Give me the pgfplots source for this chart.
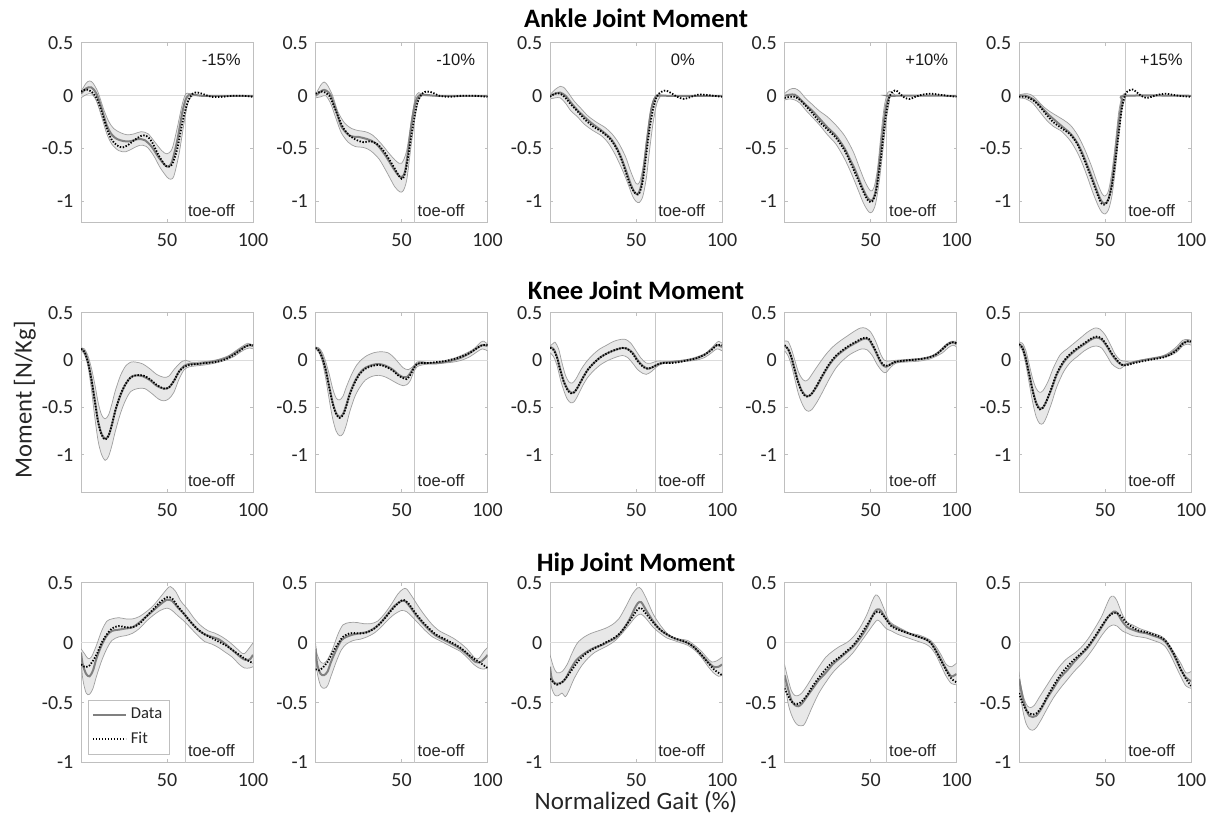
\documentclass[border=0pt]{standalone}
\usepackage{pgfplots}
\pgfplotsset{compat=1.18}
\usepgfplotslibrary{fillbetween}
\usepackage{fontspec}
\setmainfont{Carlito}
\newfontfamily\arialfont{Liberation Sans}

\definecolor{cBand}{gray}{0.91}
\definecolor{cBandEdge}{gray}{0.62}
\definecolor{cMean}{gray}{0.5}
\definecolor{cBox}{gray}{0.75}
\definecolor{cZero}{gray}{0.86}
\definecolor{cToe}{gray}{0.78}
\definecolor{cTick}{gray}{0.15}

\pgfplotsset{
  panel/.style={
    set layers,
    scale only axis, width=86pt, height=89.75pt,
    anchor=north west,
    xmin=0, xmax=100, ymax=0.5,
    xtick={50,100}, xticklabels={50,100},
    ytick={-1,-0.5,0,0.5}, yticklabels={-1,-0.5,0,0.5},
    axis line style={cBox, line width=0.5pt},
    tick style={cBox, line width=0.5pt},
    major tick length=1.5pt,
    tick align=inside,
    /pgf/number format/assume math mode=true,
    ticklabel style={font=\fontsize{10}{11}\selectfont, text=cTick},
    xticklabel style={yshift=-2pt},
    yticklabel style={xshift=-0.3pt},
    legend image code/.code={\draw[##1] (0pt,0pt) -- (16.5pt,0pt);},
  },
  bandedge/.style={cBandEdge, line width=0.35pt, smooth, forget plot},
  dataline/.style={cMean, line width=1pt, smooth},
  fitline/.style={black, line width=0.9pt, dash pattern=on 0.7pt off 0.8pt, smooth},
}

% #1 position, #2 ymin, #3 toe-off, #4 upper band, #5 lower band,
% #6 mean data, #7 fit, #8 extra axis options, #9 extra content
\newcommand{\panel}[9]{%
\begin{axis}[panel, at={(#1)}, ymin=#2, #8]
  \addplot[cZero, line width=0.5pt, forget plot] coordinates {(0,0) (100,0)};
  \addplot[cToe, line width=0.45pt, forget plot] coordinates {(#3,-2) (#3,1)};
  \addplot[bandedge, name path=hi] coordinates {#4};
  \addplot[bandedge, name path=lo] coordinates {#5};
  \addplot[fill=cBand, draw=none, forget plot] fill between[of=hi and lo];
  \addplot[dataline] coordinates {#6};
  \addplot[fitline] coordinates {#7};
  \node[anchor=south west, inner sep=0pt, xshift=1.3pt, yshift=2.6pt,
        font=\arialfont\fontsize{8.3}{9}\selectfont, text=cTick]
        at (axis cs:#3,#2) {toe-off};
  #9
\end{axis}}

\newcommand{\pct}[1]{\node[anchor=west, inner sep=0pt,
   font=\arialfont\fontsize{8.3}{9}\selectfont, text=black!90]
   at (axis cs:70,0.34) {#1};}

\begin{document}
\begin{tikzpicture}
\path (0,0) rectangle (610pt,411pt);

% ---------------- Ankle ----------------
\panel{40.5pt,389.5pt}{-1.2}{60.5}
{(0,0.04)(3,0.12)(5,0.14)(7,0.12)(10,0.03)(13,-0.12)(16,-0.24)(19,-0.31)(23,-0.35)(27,-0.37)(31,-0.36)(35,-0.34)(39,-0.36)(43,-0.44)(47,-0.52)(50,-0.55)(53,-0.5)(56,-0.3)(59,-0.07)(61,0.02)(63,0.02)(66,0.01)(70,0)(80,0)(90,0)(100,0)}
{(0,-0.02)(3,0.01)(6,0.02)(9,-0.05)(12,-0.2)(15,-0.36)(18,-0.46)(22,-0.52)(26,-0.53)(30,-0.5)(34,-0.47)(38,-0.48)(42,-0.56)(46,-0.68)(50,-0.77)(52,-0.79)(54,-0.76)(57,-0.55)(60,-0.25)(62,-0.08)(64,-0.01)(67,0)(80,0)(90,0)(100,0)}
{(0,0.02)(3,0.07)(6,0.08)(9,0.02)(12,-0.12)(15,-0.28)(18,-0.37)(21,-0.41)(25,-0.43)(29,-0.43)(33,-0.41)(37,-0.42)(41,-0.48)(45,-0.58)(49,-0.66)(51,-0.67)(53,-0.62)(56,-0.42)(59,-0.15)(61,-0.03)(63,0.01)(66,0.01)(70,0)(80,0)(90,0)(100,0)}
{(0,0.04)(3,0.06)(6,0.04)(9,-0.02)(12,-0.15)(15,-0.31)(18,-0.42)(21,-0.47)(24,-0.49)(27,-0.47)(31,-0.42)(35,-0.38)(38,-0.38)(41,-0.43)(45,-0.56)(49,-0.66)(51,-0.67)(53,-0.65)(56,-0.5)(59,-0.25)(62,-0.06)(65,0.02)(68,0.03)(72,0.01)(76,-0.01)(82,-0.01)(88,0)(94,0)(100,-0.01)}
{}{\pct{-15\%}}

\panel{157.75pt,389.5pt}{-1.2}{57.7}
{(0,0.01)(3,0.1)(5,0.13)(7,0.1)(10,0)(13,-0.15)(17,-0.26)(21,-0.31)(25,-0.33)(29,-0.34)(33,-0.37)(38,-0.45)(43,-0.55)(47,-0.62)(50,-0.64)(53,-0.52)(56,-0.2)(58,-0.02)(60,0.03)(62,0.01)(65,0)(80,0)(100,0)}
{(0,-0.02)(3,-0.01)(6,0)(9,-0.08)(12,-0.22)(15,-0.35)(19,-0.44)(23,-0.48)(28,-0.49)(32,-0.52)(37,-0.6)(42,-0.74)(46,-0.86)(49,-0.91)(51,-0.9)(53,-0.8)(55,-0.55)(57,-0.3)(59,-0.1)(61,-0.01)(64,0)(80,0)(100,0)}
{(0,0)(3,0.04)(5,0.056)(7,0.04)(9,0)(12,-0.14)(15,-0.29)(20,-0.38)(25,-0.39)(30,-0.41)(35,-0.45)(40,-0.55)(45,-0.68)(48,-0.75)(50,-0.77)(52,-0.72)(54,-0.5)(56,-0.25)(58,-0.07)(60,0)(63,0.01)(70,0)(80,0)(100,0)}
{(0,0.02)(4,0.04)(8,0)(12,-0.15)(16,-0.3)(20,-0.38)(24,-0.42)(28,-0.44)(32,-0.43)(36,-0.46)(40,-0.53)(45,-0.66)(49,-0.77)(51,-0.78)(53,-0.66)(56,-0.35)(59,-0.08)(62,0.02)(65,0.04)(68,0.03)(72,0)(78,-0.01)(85,0)(92,0)(100,-0.01)}
{}{\pct{-10\%}}

\panel{275pt,389.5pt}{-1.2}{61.2}
{(0,0.01)(3,0.06)(6,0.09)(8,0.08)(11,0.02)(14,-0.05)(18,-0.12)(22,-0.19)(27,-0.25)(32,-0.3)(36,-0.36)(40,-0.45)(44,-0.58)(47,-0.72)(50,-0.83)(52,-0.82)(54,-0.68)(56,-0.42)(58,-0.18)(60,-0.04)(62,0.01)(64,0.01)(70,0)(100,0)}
{(0,-0.03)(3,-0.02)(6,-0.02)(9,-0.07)(12,-0.14)(16,-0.2)(20,-0.27)(25,-0.33)(30,-0.38)(34,-0.45)(38,-0.56)(42,-0.7)(45,-0.82)(48,-0.95)(50,-1)(52,-1.01)(54,-0.95)(56,-0.78)(58,-0.5)(60,-0.25)(62,-0.08)(64,-0.01)(67,0)(100,0)}
{(0,0)(3,0.02)(6,0.03)(9,0)(12,-0.06)(15,-0.12)(20,-0.2)(25,-0.27)(30,-0.33)(35,-0.4)(38,-0.47)(41,-0.57)(44,-0.7)(47,-0.84)(49,-0.91)(51,-0.93)(53,-0.85)(55,-0.62)(57,-0.35)(59,-0.12)(61,-0.02)(63,0)(70,0)(100,0)}
{(0,-0.01)(3,0.02)(6,0.02)(9,-0.02)(12,-0.08)(15,-0.13)(20,-0.22)(25,-0.29)(30,-0.34)(35,-0.41)(38,-0.48)(41,-0.58)(44,-0.72)(47,-0.86)(50,-0.93)(52,-0.92)(54,-0.8)(56,-0.55)(58,-0.3)(60,-0.12)(62,-0.01)(64,0.03)(67,0.05)(70,0.03)(74,-0.01)(78,-0.03)(82,-0.01)(86,0.01)(90,0.01)(95,0)(100,-0.01)}
{}{\pct{0\%}}

\panel{392.25pt,389.5pt}{-1.2}{59.1}
{(0,0.02)(3,0.06)(6,0.07)(9,0.04)(12,-0.02)(16,-0.08)(20,-0.14)(25,-0.2)(30,-0.28)(35,-0.38)(40,-0.53)(44,-0.7)(47,-0.82)(50,-0.9)(52,-0.87)(54,-0.7)(56,-0.38)(58,-0.1)(60,0.03)(62,0.04)(64,0.01)(66,0)(100,0)}
{(0,-0.04)(3,-0.03)(6,-0.04)(9,-0.07)(12,-0.13)(16,-0.2)(20,-0.27)(25,-0.37)(30,-0.46)(35,-0.6)(39,-0.74)(43,-0.9)(46,-1.02)(49,-1.1)(51,-1.1)(53,-1.02)(55,-0.82)(57,-0.55)(59,-0.25)(61,-0.06)(63,0)(100,0)}
{(0,0)(3,0.01)(6,0.01)(9,-0.03)(12,-0.08)(16,-0.14)(20,-0.21)(25,-0.3)(30,-0.38)(35,-0.5)(38,-0.6)(41,-0.7)(44,-0.82)(47,-0.93)(49,-0.98)(51,-0.99)(53,-0.9)(55,-0.65)(57,-0.35)(59,-0.1)(61,-0.01)(63,0)(100,0)}
{(0,-0.02)(3,-0.01)(6,-0.01)(9,-0.04)(12,-0.09)(16,-0.16)(20,-0.24)(25,-0.32)(30,-0.4)(35,-0.52)(38,-0.62)(41,-0.73)(44,-0.84)(47,-0.95)(49,-1)(51,-1)(53,-0.92)(55,-0.72)(57,-0.45)(59,-0.18)(61,-0.01)(63,0.04)(65,0.05)(67,0.02)(70,-0.02)(73,-0.03)(76,-0.01)(80,0.01)(85,0.02)(90,0.01)(95,0)(100,-0.01)}
{}{\pct{+10\%}}

\panel{509.5pt,389.5pt}{-1.2}{61.8}
{(0,0.01)(4,0.02)(7,0.01)(10,-0.03)(14,-0.1)(18,-0.15)(22,-0.19)(26,-0.23)(30,-0.28)(34,-0.37)(38,-0.5)(42,-0.66)(45,-0.8)(48,-0.92)(50,-0.95)(52,-0.9)(54,-0.72)(56,-0.45)(58,-0.15)(60,0)(62,0.02)(64,0)(100,0)}
{(0,-0.02)(4,-0.03)(8,-0.07)(12,-0.15)(16,-0.23)(20,-0.29)(25,-0.34)(30,-0.43)(34,-0.54)(37,-0.65)(40,-0.78)(43,-0.92)(46,-1.04)(48,-1.1)(50,-1.12)(52,-1.08)(54,-0.95)(56,-0.7)(58,-0.38)(60,-0.12)(62,-0.02)(64,0)(100,0)}
{(0,0)(4,0)(8,-0.03)(12,-0.09)(16,-0.16)(20,-0.22)(25,-0.29)(30,-0.36)(34,-0.45)(37,-0.55)(40,-0.67)(43,-0.8)(46,-0.93)(48,-1)(50,-1.02)(52,-0.98)(54,-0.82)(56,-0.55)(58,-0.25)(60,-0.05)(62,0)(100,0)}
{(0,-0.01)(4,-0.01)(8,-0.04)(12,-0.1)(16,-0.18)(20,-0.25)(25,-0.31)(30,-0.37)(34,-0.46)(37,-0.57)(40,-0.69)(43,-0.82)(46,-0.95)(48,-1.02)(50,-1.03)(52,-0.98)(54,-0.85)(56,-0.62)(58,-0.35)(60,-0.1)(62,0.02)(64,0.05)(66,0.06)(68,0.04)(71,0)(74,-0.02)(77,-0.01)(81,0.01)(85,0.02)(89,0.01)(93,0)(100,-0.01)}
{}{\pct{+15\%}}

% ---------------- Knee ----------------
\panel{40.5pt,254.5pt}{-1.4}{60.5}
{(0,0.13)(2,0.12)(4,0.05)(6,-0.08)(8,-0.25)(10,-0.45)(12,-0.58)(14,-0.62)(16,-0.58)(18,-0.46)(20,-0.32)(23,-0.16)(26,-0.06)(29,-0.02)(32,-0.02)(36,-0.04)(40,-0.09)(44,-0.15)(48,-0.18)(51,-0.17)(54,-0.1)(57,-0.04)(59,-0.01)(61,0)(64,-0.02)(68,-0.02)(74,-0.01)(80,0.01)(86,0.05)(90,0.1)(94,0.15)(97,0.18)(100,0.16)}
{(0,0.11)(2,0.06)(4,-0.06)(6,-0.3)(8,-0.6)(10,-0.86)(12,-1)(14,-1.06)(16,-1.02)(18,-0.9)(20,-0.75)(23,-0.56)(26,-0.42)(29,-0.33)(33,-0.3)(37,-0.3)(41,-0.35)(45,-0.41)(48,-0.43)(51,-0.41)(54,-0.34)(57,-0.2)(60,-0.1)(63,-0.07)(67,-0.06)(72,-0.05)(78,-0.03)(84,0)(89,0.04)(93,0.09)(96,0.12)(98,0.13)(100,0.12)}
{(0,0.12)(2,0.09)(4,-0.01)(6,-0.19)(8,-0.42)(10,-0.65)(12,-0.78)(14,-0.83)(16,-0.8)(18,-0.68)(20,-0.53)(23,-0.37)(26,-0.25)(29,-0.18)(32,-0.16)(36,-0.17)(40,-0.21)(44,-0.27)(48,-0.3)(51,-0.29)(54,-0.22)(57,-0.12)(60,-0.06)(63,-0.04)(67,-0.04)(72,-0.03)(78,-0.01)(84,0.02)(89,0.07)(93,0.12)(96,0.15)(98,0.16)(100,0.15)}
{(0,0.12)(2,0.09)(4,-0.02)(6,-0.2)(8,-0.43)(10,-0.66)(12,-0.79)(14,-0.84)(16,-0.8)(18,-0.68)(20,-0.53)(23,-0.36)(26,-0.25)(29,-0.18)(32,-0.16)(36,-0.16)(40,-0.2)(44,-0.26)(48,-0.3)(51,-0.29)(54,-0.22)(57,-0.12)(60,-0.07)(63,-0.05)(67,-0.04)(72,-0.03)(78,-0.02)(84,0.01)(89,0.06)(93,0.11)(96,0.15)(98,0.16)(100,0.16)}
{}{}

\panel{157.75pt,254.5pt}{-1.4}{57.7}
{(0,0.14)(2,0.13)(4,0.08)(6,-0.02)(8,-0.15)(10,-0.3)(12,-0.4)(14,-0.42)(16,-0.38)(18,-0.28)(21,-0.15)(24,-0.05)(27,0.01)(30,0.05)(34,0.08)(38,0.09)(42,0.08)(45,0.04)(48,-0.02)(51,-0.08)(54,-0.1)(57,-0.06)(59,-0.02)(61,-0.01)(64,-0.02)(70,-0.02)(76,0)(82,0.03)(87,0.07)(92,0.12)(96,0.19)(98,0.2)(100,0.17)}
{(0,0.12)(2,0.08)(4,-0.02)(6,-0.2)(8,-0.42)(10,-0.62)(12,-0.75)(14,-0.8)(16,-0.78)(18,-0.68)(20,-0.54)(23,-0.38)(26,-0.28)(29,-0.21)(33,-0.17)(37,-0.16)(41,-0.18)(45,-0.22)(48,-0.25)(51,-0.27)(53,-0.26)(55,-0.22)(57,-0.13)(59,-0.07)(62,-0.05)(66,-0.04)(70,-0.04)(75,-0.03)(80,-0.02)(85,0)(90,0.04)(94,0.09)(97,0.12)(100,0.1)}
{(0,0.13)(2,0.11)(4,0.03)(6,-0.1)(8,-0.28)(10,-0.45)(12,-0.56)(14,-0.6)(16,-0.57)(18,-0.47)(20,-0.35)(23,-0.22)(26,-0.13)(29,-0.08)(33,-0.05)(37,-0.04)(41,-0.06)(45,-0.1)(48,-0.15)(51,-0.18)(53,-0.18)(55,-0.14)(57,-0.08)(59,-0.04)(62,-0.03)(66,-0.03)(70,-0.03)(75,-0.02)(80,0)(85,0.03)(90,0.08)(94,0.13)(97,0.16)(100,0.15)}
{(0,0.13)(2,0.1)(4,0.02)(6,-0.11)(8,-0.29)(10,-0.46)(12,-0.57)(14,-0.61)(16,-0.58)(18,-0.48)(20,-0.36)(23,-0.23)(26,-0.14)(29,-0.09)(33,-0.06)(37,-0.05)(41,-0.07)(45,-0.11)(48,-0.16)(51,-0.19)(53,-0.2)(55,-0.16)(57,-0.09)(59,-0.04)(62,-0.03)(66,-0.03)(70,-0.02)(75,-0.01)(80,0.01)(85,0.04)(90,0.08)(94,0.13)(97,0.16)(100,0.16)}
{}{}

\panel{275pt,254.5pt}{-1.4}{61.2}
{(0,0.15)(2,0.18)(3,0.19)(5,0.12)(7,-0.03)(9,-0.16)(11,-0.23)(13,-0.24)(15,-0.2)(18,-0.1)(21,-0.02)(25,0.06)(29,0.12)(33,0.16)(37,0.2)(41,0.22)(44,0.22)(47,0.18)(50,0.1)(53,0.02)(56,-0.03)(59,-0.03)(62,-0.01)(66,-0.01)(72,-0.01)(80,0.01)(86,0.04)(92,0.09)(96,0.17)(98,0.2)(100,0.18)}
{(0,0.08)(2,0.04)(4,-0.05)(6,-0.2)(8,-0.32)(10,-0.41)(12,-0.45)(14,-0.44)(16,-0.38)(19,-0.27)(22,-0.18)(26,-0.1)(30,-0.04)(34,0)(38,0.03)(42,0.05)(45,0.03)(48,-0.03)(51,-0.1)(54,-0.14)(56,-0.15)(59,-0.12)(62,-0.07)(65,-0.04)(70,-0.03)(75,-0.02)(80,-0.01)(85,0)(90,0.03)(94,0.08)(97,0.12)(100,0.1)}
{(0,0.14)(2,0.12)(4,0.04)(6,-0.1)(8,-0.22)(10,-0.3)(12,-0.34)(14,-0.34)(16,-0.29)(19,-0.19)(22,-0.1)(26,-0.02)(30,0.04)(34,0.08)(38,0.11)(42,0.13)(45,0.12)(48,0.08)(51,0)(54,-0.06)(57,-0.09)(60,-0.07)(62,-0.05)(65,-0.03)(70,-0.02)(75,-0.01)(80,0)(85,0.02)(90,0.06)(94,0.12)(97,0.16)(100,0.14)}
{(0,0.13)(2,0.11)(4,0.03)(6,-0.11)(8,-0.23)(10,-0.31)(12,-0.35)(14,-0.34)(16,-0.29)(19,-0.19)(22,-0.1)(26,-0.02)(30,0.04)(34,0.08)(38,0.11)(42,0.13)(45,0.12)(48,0.07)(51,-0.01)(54,-0.07)(57,-0.09)(60,-0.07)(62,-0.05)(65,-0.03)(70,-0.03)(75,-0.02)(80,0)(85,0.02)(90,0.06)(94,0.11)(97,0.16)(100,0.16)}
{}{}

\panel{392.25pt,254.5pt}{-1.4}{59.1}
{(0,0.2)(2,0.2)(4,0.12)(6,0)(8,-0.12)(10,-0.19)(12,-0.22)(14,-0.2)(17,-0.12)(20,-0.04)(24,0.06)(28,0.14)(32,0.2)(36,0.25)(40,0.3)(44,0.34)(47,0.34)(50,0.3)(53,0.2)(56,0.06)(58,0)(60,-0.01)(65,0)(72,0.01)(80,0.02)(86,0.05)(90,0.1)(94,0.17)(97,0.2)(100,0.2)}
{(0,0.1)(2,0.05)(4,-0.05)(6,-0.2)(8,-0.35)(10,-0.45)(12,-0.52)(14,-0.54)(16,-0.52)(19,-0.44)(22,-0.34)(26,-0.2)(30,-0.08)(34,0)(38,0.06)(42,0.1)(45,0.12)(48,0.11)(51,0.05)(54,-0.05)(57,-0.12)(59,-0.13)(62,-0.07)(65,-0.03)(70,-0.02)(78,-0.01)(84,0.01)(88,0.04)(92,0.08)(95,0.13)(98,0.16)(100,0.14)}
{(0,0.15)(2,0.12)(4,0.03)(6,-0.1)(8,-0.23)(10,-0.32)(12,-0.37)(14,-0.38)(16,-0.35)(19,-0.27)(22,-0.17)(26,-0.05)(30,0.04)(34,0.1)(38,0.15)(42,0.19)(45,0.22)(47,0.23)(49,0.22)(51,0.16)(53,0.09)(55,0.01)(57,-0.05)(59,-0.07)(61,-0.05)(64,-0.02)(67,-0.01)(72,0)(78,0.01)(84,0.03)(88,0.06)(92,0.12)(95,0.17)(98,0.19)(100,0.17)}
{(0,0.16)(2,0.12)(4,0.03)(6,-0.11)(8,-0.24)(10,-0.33)(12,-0.38)(14,-0.38)(16,-0.35)(19,-0.26)(22,-0.16)(26,-0.04)(30,0.05)(34,0.11)(38,0.16)(42,0.2)(45,0.23)(47,0.24)(49,0.23)(51,0.17)(53,0.1)(55,0.02)(57,-0.04)(59,-0.06)(61,-0.05)(64,-0.02)(67,-0.01)(72,0)(78,0.01)(84,0.03)(88,0.06)(92,0.12)(95,0.17)(98,0.19)(100,0.18)}
{}{}

\panel{509.5pt,254.5pt}{-1.4}{61.8}
{(0,0.19)(2,0.18)(4,0.1)(6,-0.05)(8,-0.2)(10,-0.3)(12,-0.34)(14,-0.32)(17,-0.22)(20,-0.08)(24,0.06)(28,0.12)(32,0.18)(36,0.24)(40,0.3)(44,0.34)(47,0.33)(50,0.27)(53,0.17)(56,0.06)(59,0)(62,-0.01)(65,-0.02)(70,0)(78,0.02)(84,0.05)(88,0.09)(92,0.15)(95,0.21)(98,0.22)(100,0.21)}
{(0,0.15)(2,0.1)(4,-0.05)(6,-0.25)(8,-0.45)(10,-0.6)(12,-0.67)(14,-0.67)(16,-0.6)(19,-0.45)(22,-0.28)(26,-0.12)(30,-0.02)(34,0.04)(38,0.1)(42,0.14)(45,0.15)(48,0.13)(51,0.05)(54,-0.04)(57,-0.08)(59,-0.09)(62,-0.05)(66,-0.03)(72,-0.01)(78,0.01)(84,0.03)(88,0.05)(92,0.09)(95,0.15)(98,0.17)(100,0.16)}
{(0,0.17)(2,0.14)(4,0.02)(6,-0.15)(8,-0.32)(10,-0.45)(12,-0.51)(14,-0.5)(16,-0.43)(19,-0.3)(22,-0.15)(26,-0.02)(30,0.06)(34,0.12)(38,0.17)(42,0.22)(45,0.24)(48,0.22)(51,0.15)(54,0.06)(57,-0.01)(60,-0.05)(63,-0.04)(67,-0.02)(72,0)(78,0.02)(84,0.04)(88,0.07)(92,0.12)(95,0.18)(98,0.2)(100,0.19)}
{(0,0.17)(2,0.13)(4,0.01)(6,-0.16)(8,-0.33)(10,-0.46)(12,-0.52)(14,-0.5)(16,-0.43)(19,-0.29)(22,-0.14)(26,-0.01)(30,0.07)(34,0.13)(38,0.18)(42,0.23)(45,0.25)(48,0.23)(51,0.16)(54,0.07)(57,0)(60,-0.05)(63,-0.05)(67,-0.03)(72,-0.01)(78,0.01)(84,0.03)(88,0.06)(92,0.11)(95,0.17)(98,0.2)(100,0.2)}
{}{}

% ---------------- Hip ----------------
\panel{40.5pt,119.5pt}{-1}{60.5}
{(0,-0.05)(2,-0.09)(4,-0.13)(6,-0.12)(9,-0.02)(12,0.1)(15,0.18)(18,0.2)(22,0.21)(26,0.2)(30,0.2)(34,0.22)(38,0.26)(42,0.31)(46,0.38)(50,0.45)(52,0.47)(55,0.43)(58,0.35)(62,0.28)(66,0.2)(70,0.14)(74,0.1)(78,0.08)(82,0.05)(86,0.01)(90,-0.04)(93,-0.08)(95,-0.09)(98,-0.04)(100,0)}
{(0,-0.12)(1,-0.3)(3,-0.42)(5,-0.43)(7,-0.38)(9,-0.28)(12,-0.15)(15,-0.05)(18,0.02)(22,0.05)(26,0.06)(30,0.08)(34,0.12)(38,0.18)(42,0.23)(46,0.27)(50,0.29)(53,0.27)(56,0.23)(60,0.18)(64,0.12)(68,0.06)(72,0.01)(76,-0.01)(80,-0.04)(84,-0.08)(88,-0.12)(92,-0.18)(95,-0.21)(98,-0.21)(100,-0.2)}
{(0,-0.08)(1,-0.18)(3,-0.26)(5,-0.28)(7,-0.23)(9,-0.13)(12,-0.02)(15,0.06)(18,0.1)(22,0.11)(26,0.12)(30,0.13)(34,0.17)(38,0.22)(42,0.27)(46,0.32)(50,0.36)(53,0.35)(56,0.3)(60,0.24)(64,0.17)(68,0.11)(72,0.07)(76,0.05)(80,0.03)(84,-0.01)(88,-0.06)(92,-0.11)(95,-0.14)(98,-0.14)(100,-0.1)}
{(0,-0.18)(2,-0.2)(4,-0.2)(6,-0.17)(9,-0.1)(12,0)(15,0.07)(18,0.12)(22,0.14)(26,0.13)(30,0.13)(34,0.16)(38,0.22)(42,0.28)(46,0.34)(50,0.38)(53,0.37)(56,0.31)(60,0.24)(64,0.17)(68,0.11)(72,0.07)(76,0.04)(80,0.01)(84,-0.02)(88,-0.06)(92,-0.1)(96,-0.14)(100,-0.17)}
{legend entries={Data,Fit},
 legend style={at={(0.04,0.045)}, anchor=south west, draw=cBox, fill=white,
   font=\fontsize{8.3}{9.5}\selectfont, text=cTick, inner sep=1.8pt, row sep=1.2pt,
   cells={anchor=west}}}{}

\panel{157.75pt,119.5pt}{-1}{57.7}
{(0,0)(1,-0.1)(3,-0.16)(5,-0.17)(7,-0.14)(10,-0.05)(13,0.07)(16,0.15)(20,0.17)(24,0.17)(28,0.16)(32,0.16)(36,0.18)(40,0.24)(44,0.32)(48,0.41)(51,0.45)(53,0.45)(56,0.39)(60,0.3)(64,0.22)(68,0.15)(72,0.1)(76,0.07)(80,0.04)(84,0)(88,-0.05)(91,-0.1)(93,-0.13)(95,-0.13)(98,-0.07)(100,-0.04)}
{(0,-0.08)(1,-0.25)(3,-0.36)(5,-0.38)(7,-0.36)(9,-0.28)(12,-0.16)(15,-0.06)(18,-0.01)(22,0.02)(26,0.03)(30,0.05)(34,0.08)(38,0.13)(42,0.19)(46,0.24)(50,0.27)(53,0.26)(56,0.22)(60,0.16)(64,0.1)(68,0.05)(72,0.02)(76,-0.01)(80,-0.04)(84,-0.07)(88,-0.12)(92,-0.18)(95,-0.21)(98,-0.22)(100,-0.2)}
{(0,-0.05)(1,-0.18)(3,-0.26)(5,-0.27)(7,-0.24)(9,-0.16)(12,-0.06)(15,0.02)(18,0.05)(22,0.07)(26,0.08)(30,0.09)(34,0.12)(38,0.17)(42,0.24)(46,0.31)(50,0.35)(52,0.35)(55,0.3)(58,0.24)(62,0.17)(66,0.11)(70,0.06)(74,0.03)(78,0)(82,-0.03)(86,-0.07)(90,-0.12)(93,-0.16)(96,-0.16)(99,-0.12)(100,-0.1)}
{(0,-0.22)(2,-0.23)(4,-0.21)(7,-0.16)(10,-0.08)(13,-0.01)(16,0.05)(20,0.08)(24,0.08)(28,0.08)(32,0.1)(36,0.14)(40,0.2)(44,0.27)(48,0.33)(51,0.36)(54,0.33)(58,0.25)(62,0.18)(66,0.12)(70,0.07)(74,0.04)(78,0.01)(82,-0.02)(86,-0.06)(90,-0.11)(94,-0.15)(97,-0.18)(100,-0.21)}
{}{}

\panel{275pt,119.5pt}{-1}{61.2}
{(0,-0.1)(2,-0.2)(4,-0.25)(7,-0.24)(10,-0.18)(13,-0.08)(16,0)(20,0.05)(24,0.08)(28,0.1)(32,0.12)(36,0.15)(40,0.2)(44,0.3)(48,0.41)(51,0.46)(53,0.45)(56,0.37)(60,0.24)(64,0.15)(68,0.08)(72,0.04)(76,0.03)(80,0.02)(84,-0.02)(88,-0.07)(91,-0.12)(94,-0.16)(97,-0.15)(100,-0.12)}
{(0,-0.25)(1,-0.38)(3,-0.44)(5,-0.44)(7,-0.42)(9,-0.45)(11,-0.4)(14,-0.3)(18,-0.2)(22,-0.13)(26,-0.08)(30,-0.05)(34,-0.02)(38,0.02)(42,0.08)(46,0.15)(50,0.22)(53,0.24)(56,0.2)(60,0.13)(64,0.08)(68,0.04)(72,0.02)(76,0)(80,-0.02)(84,-0.06)(88,-0.12)(92,-0.2)(95,-0.25)(98,-0.28)(100,-0.27)}
{(0,-0.2)(1,-0.3)(3,-0.34)(5,-0.34)(7,-0.33)(9,-0.3)(12,-0.22)(15,-0.15)(18,-0.11)(22,-0.07)(26,-0.04)(30,-0.02)(34,0.01)(38,0.04)(42,0.1)(46,0.19)(49,0.28)(51,0.33)(53,0.34)(56,0.27)(60,0.18)(64,0.11)(68,0.07)(72,0.04)(76,0.02)(80,0)(84,-0.04)(88,-0.1)(92,-0.16)(95,-0.2)(98,-0.2)(100,-0.18)}
{(0,-0.3)(2,-0.33)(4,-0.35)(7,-0.33)(10,-0.28)(13,-0.22)(16,-0.16)(20,-0.1)(24,-0.06)(28,-0.03)(32,0)(36,0.03)(40,0.07)(44,0.14)(48,0.22)(51,0.28)(53,0.29)(56,0.24)(60,0.17)(64,0.11)(68,0.07)(72,0.04)(76,0.02)(80,0)(84,-0.04)(88,-0.1)(92,-0.17)(96,-0.23)(100,-0.27)}
{}{}

\panel{392.25pt,119.5pt}{-1}{59.1}
{(0,-0.18)(2,-0.3)(4,-0.4)(6,-0.44)(8,-0.44)(10,-0.42)(13,-0.36)(16,-0.29)(20,-0.2)(24,-0.12)(28,-0.07)(32,-0.03)(36,0)(40,0.05)(44,0.13)(48,0.24)(51,0.35)(53,0.4)(55,0.38)(58,0.28)(61,0.18)(65,0.14)(69,0.11)(73,0.08)(77,0.07)(81,0.05)(85,0.02)(88,-0.03)(91,-0.1)(94,-0.18)(97,-0.2)(100,-0.17)}
{(0,-0.3)(2,-0.5)(4,-0.6)(6,-0.66)(8,-0.69)(11,-0.69)(13,-0.64)(16,-0.54)(20,-0.42)(24,-0.33)(28,-0.25)(32,-0.19)(36,-0.14)(40,-0.08)(44,0)(48,0.08)(52,0.16)(54,0.19)(56,0.17)(59,0.12)(62,0.1)(66,0.07)(70,0.05)(74,0.03)(78,0.01)(82,-0.01)(85,-0.04)(88,-0.1)(91,-0.19)(94,-0.28)(97,-0.34)(100,-0.35)}
{(0,-0.27)(2,-0.38)(4,-0.48)(6,-0.52)(8,-0.53)(10,-0.51)(13,-0.45)(16,-0.39)(20,-0.31)(24,-0.25)(28,-0.18)(32,-0.13)(36,-0.08)(40,-0.03)(44,0.04)(48,0.13)(52,0.25)(54,0.28)(56,0.27)(59,0.2)(62,0.15)(66,0.12)(70,0.09)(74,0.07)(78,0.05)(82,0.03)(85,0)(88,-0.06)(91,-0.14)(94,-0.22)(97,-0.28)(100,-0.26)}
{(0,-0.38)(2,-0.44)(4,-0.49)(6,-0.51)(8,-0.51)(10,-0.49)(13,-0.44)(16,-0.37)(20,-0.29)(24,-0.22)(28,-0.16)(32,-0.12)(36,-0.07)(40,-0.02)(44,0.06)(48,0.15)(52,0.24)(54,0.26)(56,0.25)(59,0.2)(62,0.14)(66,0.11)(70,0.09)(74,0.07)(78,0.05)(82,0.03)(85,0)(88,-0.07)(91,-0.15)(94,-0.23)(97,-0.3)(100,-0.33)}
{}{}

\panel{509.5pt,119.5pt}{-1}{61.8}
{(0,-0.24)(1,-0.35)(3,-0.47)(5,-0.53)(7,-0.54)(9,-0.52)(12,-0.45)(16,-0.36)(20,-0.27)(24,-0.19)(28,-0.13)(32,-0.09)(36,-0.04)(40,0.03)(44,0.12)(48,0.22)(51,0.32)(53,0.38)(55,0.39)(57,0.35)(60,0.24)(63,0.17)(66,0.15)(70,0.12)(74,0.1)(78,0.08)(82,0.06)(85,0.03)(88,-0.03)(91,-0.1)(94,-0.17)(97,-0.25)(100,-0.24)}
{(0,-0.35)(2,-0.55)(4,-0.67)(6,-0.72)(8,-0.73)(10,-0.71)(13,-0.64)(16,-0.56)(20,-0.46)(24,-0.38)(28,-0.31)(32,-0.24)(36,-0.18)(40,-0.11)(44,-0.03)(48,0.06)(52,0.13)(55,0.15)(57,0.14)(60,0.1)(63,0.08)(66,0.06)(70,0.05)(74,0.04)(78,0.02)(82,0)(85,-0.03)(88,-0.1)(91,-0.19)(94,-0.28)(97,-0.36)(100,-0.38)}
{(0,-0.3)(2,-0.45)(4,-0.55)(6,-0.61)(8,-0.62)(10,-0.61)(13,-0.55)(16,-0.47)(20,-0.38)(24,-0.29)(28,-0.23)(32,-0.16)(36,-0.1)(40,-0.04)(44,0.04)(48,0.13)(52,0.22)(55,0.26)(57,0.25)(60,0.18)(63,0.13)(66,0.11)(70,0.09)(74,0.08)(78,0.06)(82,0.04)(85,0.01)(88,-0.05)(91,-0.13)(94,-0.22)(97,-0.29)(100,-0.32)}
{(0,-0.42)(2,-0.5)(4,-0.56)(6,-0.59)(8,-0.6)(10,-0.59)(13,-0.54)(16,-0.46)(20,-0.36)(24,-0.27)(28,-0.2)(32,-0.14)(36,-0.09)(40,-0.03)(44,0.05)(48,0.14)(52,0.22)(55,0.25)(57,0.25)(60,0.21)(63,0.16)(66,0.13)(70,0.1)(74,0.09)(78,0.07)(82,0.05)(85,0.02)(88,-0.04)(91,-0.12)(94,-0.22)(97,-0.3)(100,-0.36)}
{}{}

% ---------------- titles and shared labels ----------------
\node[anchor=base, font=\bfseries\fontsize{13.3}{15}\selectfont] at (318pt,397pt) {Ankle Joint Moment};
\node[anchor=base, font=\bfseries\fontsize{13.3}{15}\selectfont] at (318pt,261pt) {Knee Joint Moment};
\node[anchor=base, font=\bfseries\fontsize{13.3}{15}\selectfont] at (318pt,125pt) {Hip Joint Moment};
\node[anchor=base, rotate=90, font=\fontsize{12.3}{14}\selectfont, text=cTick] at (15.8pt,211pt) {Moment [N/Kg]};
\node[anchor=base, font=\fontsize{12.5}{15}\selectfont, text=cTick] at (318pt,6pt) {Normalized Gait (\%)};
\end{tikzpicture}
\end{document}
